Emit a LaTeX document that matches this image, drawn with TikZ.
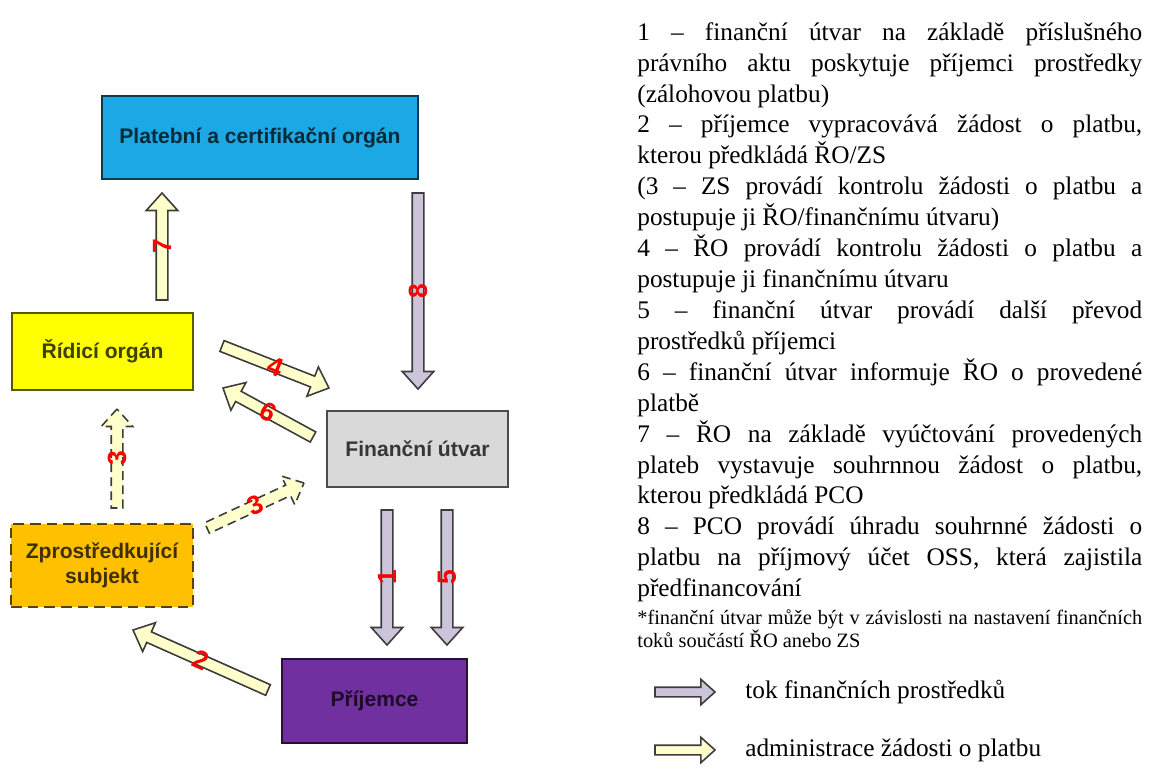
\documentclass[tikz,border=0pt]{standalone}
\usepackage{fontspec}
\setmainfont{Liberation Serif}
\setsansfont{Liberation Sans}
\usetikzlibrary{positioning}
\usetikzlibrary{calc}
\usetikzlibrary{shapes.arrows}

\definecolor{pcoblue}{RGB}{28,168,228}
\definecolor{royellow}{RGB}{255,255,0}
\definecolor{fugray}{RGB}{217,217,217}
\definecolor{zsorange}{RGB}{255,192,0}
\definecolor{prijpurple}{RGB}{112,48,160}
\definecolor{flowlilac}{RGB}{204,196,218}
\definecolor{reqyellow}{RGB}{255,255,204}
\definecolor{arrowedge}{RGB}{60,60,60}

\begin{document}
\begin{tikzpicture}
    [
    x=0.02cm, y=-0.02cm,
    org/.style={draw=#1!35!black, fill=#1, text=#1!25!black, line width=1pt, align=center,
        inner sep=0pt, font=\sffamily\bfseries\fontsize{12}{14.5}\selectfont},
    fatarrow/.style={single arrow, draw=arrowedge, line width=0.9pt, anchor=tail, inner xsep=0pt,
        inner ysep=0.1cm, outer sep=0pt, single arrow head extend=0.2cm, single arrow tip angle=84},
    flow/.style={to path={let \p1=(\tikztostart), \p2=(\tikztotarget),
        \n1={atan2(\y2-\y1,\x2-\x1)}, \n2={veclen(\x2-\x1,\y2-\y1)} in
        (\p1) node[fatarrow, rotate=\n1, minimum height=\n2, #1] {} -- (\p2) \tikztonodes}},
    numbase/.style={midway, text=red, inner sep=0pt, font=\sffamily\bfseries\fontsize{15}{15}\selectfont},
    num/.style={numbase, sloped},
    numup/.style={numbase, rotate=90},
    legtext/.style={inner sep=0pt, font=\fontsize{14.4}{17.6}\selectfont},
    ]

    \useasboundingbox (0,0) rectangle (1161,777);

    \node[org=pcoblue, minimum width=6.32cm, minimum height=1.66cm] (box_pco) at (260,137.5)
    {Platební a certifikační orgán};
    \node[org=royellow, minimum width=3.62cm, minimum height=1.54cm] (box_ro) at (102.5,351.5)
    {Řídicí orgán};
    \node[org=fugray, minimum width=3.62cm, minimum height=1.52cm] (box_fu) at (417.5,449)
    {Finanční útvar};
    \node[org=zsorange, dash pattern=on 6pt off 3.5pt, minimum width=3.64cm, minimum height=1.66cm] (box_zs) at (102,565.5)
    {Zprostředkující\\subjekt};
    \node[org=prijpurple, minimum width=3.7cm, minimum height=1.68cm] (box_prijemce) at (374.5,701)
    {Příjemce};

    \coordinate (pt_7a) at (162,300);
    \coordinate (pt_7b) at (162,193);
    \coordinate (pt_8a) at (418,193);
    \coordinate (pt_8b) at (418,389);
    \coordinate (pt_4a) at (222,346);
    \coordinate (pt_4b) at (329,388);
    \coordinate (pt_6a) at (313,437);
    \coordinate (pt_6b) at (223,388);
    \coordinate (pt_3va) at (117,508);
    \coordinate (pt_3vb) at (117,409);
    \coordinate (pt_3da) at (207,528);
    \coordinate (pt_3db) at (304,483);
    \coordinate (pt_1a) at (387,510);
    \coordinate (pt_1b) at (387,645);
    \coordinate (pt_5a) at (447,510);
    \coordinate (pt_5b) at (447,645);
    \coordinate (pt_2a) at (268,690);
    \coordinate (pt_2b) at (133,630);

    \path[flow={fill=reqyellow}] (pt_7a) to node[numup] (num_7) {7} (pt_7b);
    \path[flow={fill=flowlilac}] (pt_8a) to node[numup] (num_8) {8} (pt_8b);
    \path[flow={fill=reqyellow}] (pt_4a) to node[num] (num_4) {4} (pt_4b);
    \path[flow={fill=reqyellow}] (pt_6a) to node[num] (num_6) {6} (pt_6b);
    \path[flow={fill=reqyellow, dash pattern=on 5pt off 3pt}] (pt_3va) to node[numup] (num_3v) {3} (pt_3vb);
    \path[flow={fill=reqyellow, dash pattern=on 5pt off 3pt}] (pt_3da) to node[num] (num_3d) {3} (pt_3db);
    \path[flow={fill=flowlilac}] (pt_1a) to node[numup] (num_1) {1} (pt_1b);
    \path[flow={fill=flowlilac}] (pt_5a) to node[numup] (num_5) {5} (pt_5b);
    \path[flow={fill=reqyellow}] (pt_2a) to node[num] (num_2) {2} (pt_2b);

    \node[anchor=north west, text width=10.1cm, align=justify, inner sep=0pt,
        font=\fontsize{14.4}{17.6}\selectfont] (txt_steps) at (637,22)
    {\sloppy
    1 – finanční útvar na základě příslušného\linebreak
    právního aktu poskytuje příjemci prostředky\linebreak
    (zálohovou platbu)\par
    2 – příjemce vypracovává žádost o platbu,\linebreak
    kterou předkládá ŘO/ZS\par
    (3 – ZS provádí kontrolu žádosti o platbu a\linebreak
    postupuje ji ŘO/finančnímu útvaru)\par
    4 – ŘO provádí kontrolu žádosti o platbu a\linebreak
    postupuje ji finančnímu útvaru\par
    5 – finanční útvar provádí další převod\linebreak
    prostředků příjemci\par
    6 – finanční útvar informuje ŘO o provedené\linebreak
    platbě\par
    7 – ŘO na základě vyúčtování provedených\linebreak
    plateb vystavuje souhrnnou žádost o platbu,\linebreak
    kterou předkládá PCO\par
    8 – PCO provádí úhradu souhrnné žádosti o\linebreak
    platbu na příjmový účet OSS, která zajistila\linebreak
    předfinancování\par
    \vspace{3pt}
    {\fontsize{11.6}{13}\selectfont *finanční útvar může být v závislosti na nastavení finančních\linebreak
    toků součástí ŘO anebo ZS\par}};

    \coordinate (leg_money_a) at (655,692);
    \coordinate (leg_money_b) at (715,692);
    \coordinate (leg_req_a) at (655,750);
    \coordinate (leg_req_b) at (715,750);

    \path[flow={fill=flowlilac, inner ysep=0.08cm, single arrow head extend=0.16cm}] (leg_money_a) to (leg_money_b);
    \path[flow={fill=reqyellow, inner ysep=0.08cm, single arrow head extend=0.16cm}] (leg_req_a) to (leg_req_b);

    \node[legtext, anchor=west, right=0.6cm of leg_money_b] (txt_money) {tok finančních prostředků};
    \node[legtext, anchor=west, right=0.6cm of leg_req_b] (txt_req) {administrace žádosti o platbu};
\end{tikzpicture}
\end{document}
